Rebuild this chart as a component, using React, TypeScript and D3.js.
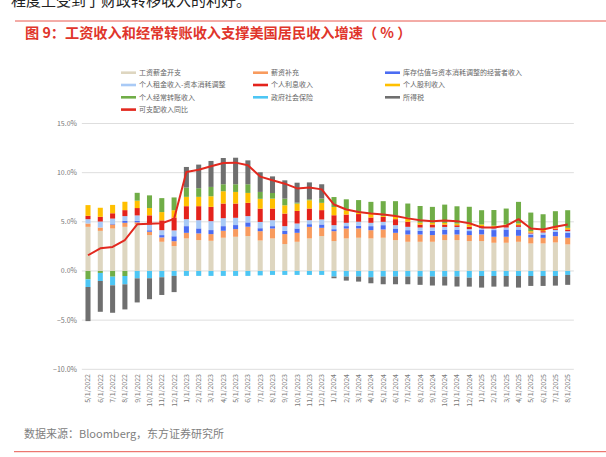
import React from 'react';
import * as d3 from 'd3';

// x categories (monthly)
const months = [
  '5/1/2022', '6/1/2022', '7/1/2022', '8/1/2022', '9/1/2022', '10/1/2022', '11/1/2022', '12/1/2022',
  '1/1/2023', '2/1/2023', '3/1/2023', '4/1/2023', '5/1/2023', '6/1/2023', '7/1/2023', '8/1/2023',
  '9/1/2023', '10/1/2023', '11/1/2023', '12/1/2023', '1/1/2024', '2/1/2024', '3/1/2024', '4/1/2024',
  '5/1/2024', '6/1/2024', '7/1/2024', '8/1/2024', '9/1/2024', '10/1/2024', '11/1/2024', '12/1/2024',
  '1/1/2025', '2/1/2025', '3/1/2025', '4/1/2025', '5/1/2025', '6/1/2025', '7/1/2025', '8/1/2025',
];

// contributions, pct pts
const wages = [4.49, 4.08, 4.32, 4.49, 4.75, 3.65, 2.97, 2.53, 3.31, 3.14, 3.07, 3.38, 3.48, 3.55, 3.1, 3.31, 2.74, 2.97, 3.31, 3.55, 3.04, 3.31, 3.38, 3.31, 3.38, 3.14, 2.97, 2.97, 2.97, 3.14, 3.14, 3.04, 3.04, 2.87, 2.87, 2.97, 2.8, 2.8, 2.9, 2.7];
const supplements = [0.34, 0.34, 0.41, 0.41, 0.2, 0.34, 0.44, 0.5, 0.57, 0.68, 0.68, 0.71, 0.78, 0.95, 0.95, 1.01, 1.01, 0.91, 1.18, 0.84, 1.01, 1.01, 0.95, 0.84, 0.84, 0.74, 0.74, 0.74, 0.68, 0.57, 0.57, 0.61, 0.68, 0.61, 0.61, 0.61, 0.61, 0.57, 0.64, 0.68];
const proprietors = [0, 0, 0.05, 0.2, 0.15, 0.15, 0.24, 0.5, 0.68, 0.51, 0.41, 0.47, 0.41, 0.44, 0.3, 0.24, 0.34, 0.44, 0.27, 0.34, 0.2, 0.24, 0.27, 0.41, 0.44, 0.44, 0.44, 0.37, 0.44, 0.5, 0.5, 0.41, 0.5, 0.68, 0.74, 0.64, 0.3, 0.34, 0.44, 0.5];
const rental = [0.44, 0.61, 0.55, 0.48, 0.55, 0.58, 0.5, 0.6, 0.71, 0.84, 0.91, 0.81, 0.74, 0.64, 0.64, 0.61, 0.47, 0.51, 0.41, 0.51, 0.41, 0.34, 0.41, 0.34, 0.34, 0.34, 0.34, 0.34, 0.34, 0.27, 0.27, 0.2, 0.17, 0.17, 0.2, 0.27, 0.1, 0.2, 0.2, 0.17];
const interest = [0.34, 0.48, 0.54, 0.61, 0.75, 0.94, 1.0, 1.3, 1.32, 1.42, 1.45, 1.49, 1.45, 1.35, 1.35, 1.18, 1.28, 1.28, 1.18, 0.95, 1.01, 0.84, 0.78, 0.54, 0.5, 0.61, 0.51, 0.3, 0.3, 0.24, 0.17, 0.24, 0.17, 0.14, 0.17, 0.17, 0.1, 0.14, 0.14, 0.17];
const dividends = [1.09, 0.92, 0.85, 0.85, 0.75, 0.74, 0.84, 0.75, 0.95, 0.95, 1.08, 1.25, 1.18, 1.01, 1.0, 1.01, 0.84, 0.74, 0.84, 0.74, 0.84, 0.44, 0.14, 0.41, 0.1, 0.34, 0.41, 0.2, 0.17, 0.17, 0.17, 0.24, 0.17, 0.14, 0.14, 0.17, 0.14, 0.17, 0.17, 0.17];
const transfers = [-0.85, -0.2, -0.58, -0.51, 0.8, 1.29, 1.42, 1.3, 0.95, 0.88, 0.95, 0.71, 0.78, 0.88, 0.7, 0.57, 0.68, 0.1, 0.1, 0.44, 1.01, 1.11, 1.28, 1.18, 1.5, 1.49, 1.45, 1.69, 1.62, 1.86, 1.76, 1.79, 1.45, 1.59, 1.62, 2.2, 1.89, 1.55, 1.59, 1.79];
const socialIns = [-0.78, -0.82, -0.88, -0.85, -0.75, -0.74, -0.64, -0.5, -0.5, -0.5, -0.5, -0.5, -0.5, -0.5, -0.45, -0.4, -0.4, -0.4, -0.4, -0.4, -0.57, -0.57, -0.57, -0.64, -0.57, -0.57, -0.57, -0.57, -0.57, -0.57, -0.57, -0.68, -0.51, -0.51, -0.51, -0.51, -0.51, -0.51, -0.51, -0.4];
const taxes = [-3.47, -3.13, -2.79, -2.55, -2.45, -2.13, -1.8, -1.65, 2.09, 2.4, 2.64, 2.67, 2.7, 2.43, 2.0, 1.69, 1.86, 2.03, 1.72, 1.45, -0.17, -0.41, -0.51, -0.61, -0.78, -0.78, -0.78, -0.84, -0.91, -0.91, -1.01, -0.91, -1.18, -1.08, -1.08, -1.18, -1.01, -1.01, -0.98, -1.01];
const dpiYoY = [1.6, 2.3, 2.45, 3.15, 4.75, 4.8, 4.85, 5.3, 10.07, 10.3, 10.65, 10.98, 11.02, 10.75, 9.6, 9.22, 8.88, 8.4, 8.5, 8.3, 6.76, 6.25, 6.0, 5.85, 5.75, 5.6, 5.35, 5.17, 5.07, 5.13, 5.07, 4.85, 4.43, 4.43, 4.6, 5.27, 4.32, 4.22, 4.49, 4.73];

const seriesNames = ['工资薪金开支', '薪资补充', '库存估值与资本消耗调整的经营者收入', '个人租金收入-资本消耗调整', '个人利息收入', '个人股利收入', '个人经常转账收入', '政府社会保险', '所得税'];
const seriesValues = [wages, supplements, proprietors, rental, interest, dividends, transfers, socialIns, taxes];
const seriesColors = ['#ded6c0', '#f89b5e', '#4b6cf2', '#a9caf6', '#e4231c', '#ffc000', '#70ad47', '#4dc6f4', '#6f6f6f'];
const lineName = '可支配收入同比';
const lineColor = '#e2291f';
const yTicks = [-10, -5, 0, 5, 10, 15];

const FONT = '"Noto Sans CJK SC", "Noto Sans", sans-serif';

export default function App() {
  const W = 606, H = 457;
  const x = d3.scaleBand().domain(months).range([81.85, 573.85]).paddingInner(0.59).paddingOuter(0.295);
  const y = d3.scaleLinear().domain([-10, 15]).range([369.3, 123.5]);

  const rows = months.map((m, i) => {
    const r: any = { month: m };
    seriesNames.forEach((n, k) => { r[n] = seriesValues[k][i]; });
    return r;
  });
  const stacked = d3.stack().keys(seriesNames).offset(d3.stackOffsetDiverging)(rows);

  const line = d3.line<number>()
    .x((_, i) => (x(months[i]) as number) + x.bandwidth() / 2)
    .y(d => y(d));

  const fmt = d3.format('.1f');

  const legendItems = [...seriesNames.map((n, k) => ({ name: n, color: seriesColors[k] })), { name: lineName, color: lineColor }];

  return (
    <svg width={W} height={H} style={{ position: 'absolute', left: 0, top: 0, background: '#fff' }} fontFamily={FONT}>
      <rect width={W} height={H} fill="#fff" />
      <text x={11} y={6} fontSize={15} fill="#222">程度上受到了财政转移收入的利好。</text>
      <line x1={15} x2={W} y1={21} y2={21} stroke="#e8584f" strokeWidth={1} />
      <text x={25} y={37.5} fontSize={14.2} fill="#e0352b" fontWeight={600}>图 9：工资收入和经常转账收入支撑美国居民收入增速（ % ）</text>

      {legendItems.map((it, i) => {
        const col = i % 3, row = Math.floor(i / 3);
        const lx = 121 + col * 132, ly = 72.7 + row * 12.3;
        return (
          <g key={it.name}>
            <line x1={lx} x2={lx + 15} y1={ly} y2={ly} stroke={it.color} strokeWidth={2.6} />
            <text x={lx + 18} y={ly} dy="0.35em" fontSize={7} fill="#666">{it.name}</text>
          </g>
        );
      })}

      {yTicks.map(t => (
        <g key={t}>
          <line x1={81.85} x2={573.85} y1={y(t)} y2={y(t)} stroke="#dedede" strokeWidth={1} />
          <text x={77} y={y(t)} dy="0.35em" textAnchor="end" fontSize={7} fill="#777">{fmt(t)}%</text>
        </g>
      ))}

      {stacked.map((s, k) => (
        <g key={s.key} fill={seriesColors[k]}>
          {s.map((d, i) => (
            <rect key={i} x={x(months[i])} width={x.bandwidth()}
              y={y(Math.max(d[0], d[1]))} height={Math.abs(y(d[0]) - y(d[1]))} />
          ))}
        </g>
      ))}

      <path d={line(dpiYoY) || ''} fill="none" stroke={lineColor} strokeWidth={2} strokeLinejoin="round" />

      {months.map(m => {
        const cx = (x(m) as number) + x.bandwidth() / 2 + 2.4;
        return (
          <text key={m} transform={`translate(${cx},374) rotate(-90)`} textAnchor="end" fontSize={7} fill="#777">{m}</text>
        );
      })}

      <text x={24} y={434.3} dy="0.35em" fontSize={11} fill="#808080">数据来源：Bloomberg，东方证券研究所</text>
      <line x1={14} x2={W} y1={451.7} y2={451.7} stroke="#e8584f" strokeWidth={1} />
    </svg>
  );
}
